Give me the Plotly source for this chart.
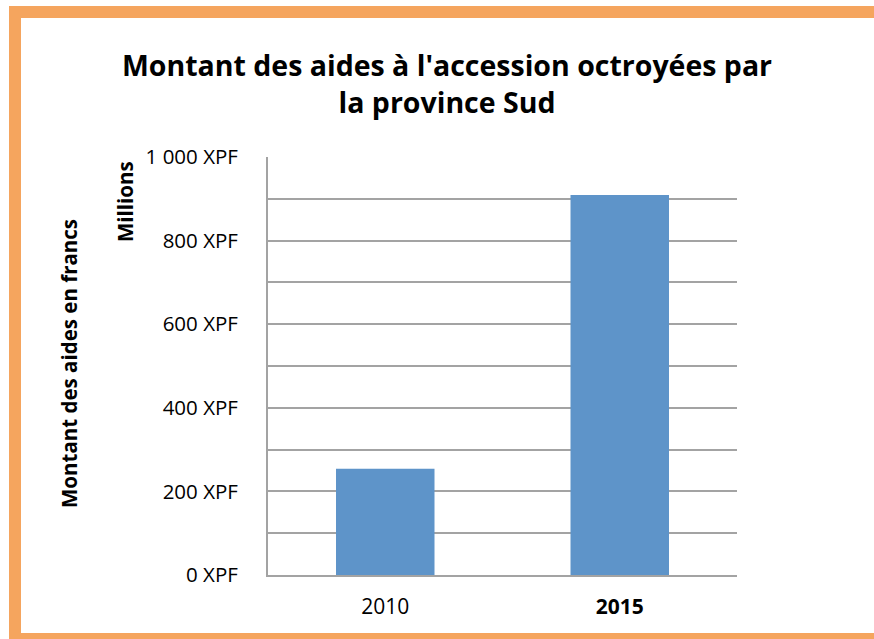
import plotly.graph_objects as go

categories = ["2010", "2015"]
values = [254, 909]
category_labels = ["2010", "<b>2015</b>"]
y_tick_values = [0, 200, 400, 600, 800, 1000]
y_tick_labels = ["0 XPF", "200 XPF", "400 XPF", "600 XPF", "800 XPF", "1 000 XPF"]

W, H = 874, 639
PL, PR, PT, PB = 268, 737, 157, 575  # plot area in page pixels
L, T = PL, PT
R, B = W - PR, H - PB
pw, ph = PR - PL, PB - PT

def px_x(px):
    return (px - PL) / pw

def px_y(py):
    return (PB - py) / ph

font_family = "Open Sans, Liberation Sans, Arial, sans-serif"
grid_col = "#A3A3A3"
border_col = "#F5A55E"

fig = go.Figure(go.Bar(
    x=categories, y=values, marker_color="#5E94C9", marker_line_width=0,
))

shapes = [
    dict(type="rect", xref="paper", yref="paper", x0=px_x(9), x1=px_x(890),
         y0=px_y(18), y1=px_y(6), fillcolor=border_col, line_width=0, layer="below"),
    dict(type="rect", xref="paper", yref="paper", x0=px_x(9), x1=px_x(21),
         y0=px_y(650), y1=px_y(6), fillcolor=border_col, line_width=0, layer="below"),
    dict(type="rect", xref="paper", yref="paper", x0=px_x(9), x1=px_x(890),
         y0=px_y(650), y1=px_y(633), fillcolor=border_col, line_width=0, layer="below"),
]

fig.update_layout(
    width=W, height=H,
    margin=dict(l=L, r=R, t=T, b=B),
    paper_bgcolor="white", plot_bgcolor="white",
    bargap=0.58,
    showlegend=False,
    font=dict(family=font_family, color="black"),
    title=dict(
        text="<b>Montant des aides à l'accession octroyées par<br>la province Sud</b>",
        x=px_x(447), xanchor="center", xref="paper",
        y=1 - 76 / H, yanchor="middle",
        font=dict(size=28.5, family=font_family, color="black"),
    ),
    shapes=shapes,
    annotations=[
        dict(text="<b>Millions</b>", xref="paper", yref="paper",
             x=px_x(125), y=px_y(202), textangle=-90, showarrow=False,
             font=dict(size=20.5, family=font_family), xanchor="center", yanchor="middle"),
        dict(text="<b>Montant des aides en francs</b>", xref="paper", yref="paper",
             x=px_x(69), y=px_y(364), textangle=-90, showarrow=False,
             font=dict(size=20.5, family=font_family), xanchor="center", yanchor="middle"),
    ],
)

fig.update_xaxes(
    tickvals=categories, ticktext=category_labels,
    tickfont=dict(size=21, family=font_family, color="black"),
    showline=True, linecolor=grid_col, linewidth=2,
    ticks="", ticklabelstandoff=12, showgrid=False,
)

fig.update_yaxes(
    range=[0, 1000],
    tickvals=y_tick_values, ticktext=y_tick_labels,
    tickfont=dict(size=20.5, family=font_family, color="black"),
    showline=True, linecolor=grid_col, linewidth=2,
    showgrid=True, gridcolor=grid_col, gridwidth=2,
    minor=dict(dtick=100, showgrid=True, gridcolor=grid_col, gridwidth=2, tick0=0),
    ticks="", ticklabelstandoff=24, zeroline=False,
)

fig.write_html(
    "out.html",
    config={"displayModeBar": False},
    post_script="document.body.style.margin='0';document.body.style.overflow='hidden';",
)
